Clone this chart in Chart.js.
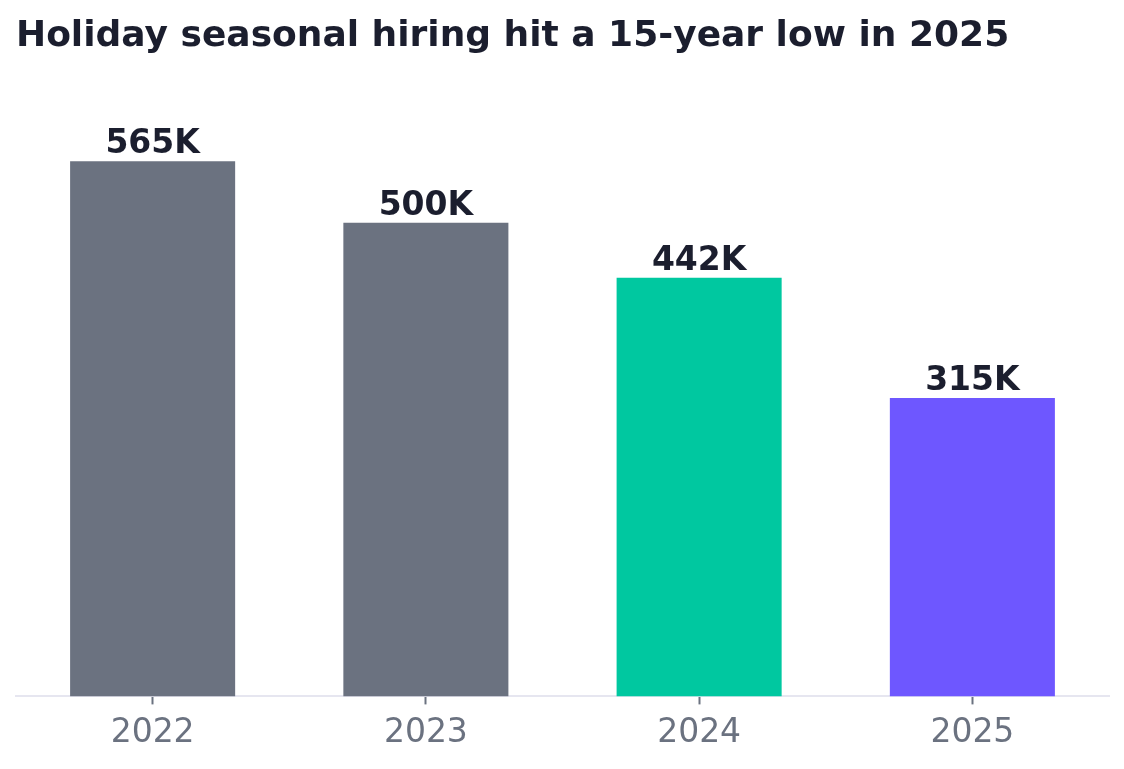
<!DOCTYPE html>
<html>
<head>
<meta charset="utf-8">
<script src="https://cdn.jsdelivr.net/npm/chart.js@4/dist/chart.umd.min.js"></script>
<style>
  html, body { margin: 0; padding: 0; background: #ffffff; }
  #wrap { width: 1124px; height: 769px; position: relative; }
</style>
</head>
<body>
<div id="wrap"><canvas id="c"></canvas></div>
<script>
const categories = ['2022', '2023', '2024', '2025'];
const hires = [565, 500, 442, 315];
const valueLabels = ['565K', '500K', '442K', '315K'];
const barColors = ['#6b7280', '#6b7280', '#00c8a0', '#6e57ff'];
const titleText = 'Holiday seasonal hiring hit a 15-year low in 2025';

const valueLabelPlugin = {
  id: 'valueLabels',
  afterDatasetsDraw(chart) {
    const ctx = chart.ctx;
    const meta = chart.getDatasetMeta(0);
    ctx.save();
    ctx.font = 'bold 33px "DejaVu Sans"';
    ctx.fillStyle = '#1b1e2e';
    ctx.textAlign = 'center';
    ctx.textBaseline = 'alphabetic';
    meta.data.forEach((bar, i) => {
      ctx.fillText(valueLabels[i], bar.x, bar.y - 8);
    });
    ctx.restore();
  }
};

new Chart(document.getElementById('c'), {
  type: 'bar',
  data: {
    labels: categories,
    datasets: [{
      data: hires,
      backgroundColor: barColors,
      borderWidth: 0,
      categoryPercentage: 1,
      barPercentage: 0.604
    }]
  },
  options: {
    responsive: true,
    maintainAspectRatio: false,
    animation: false,
    devicePixelRatio: 1,
    layout: { padding: { left: 16, right: 15, top: 0, bottom: 7 } },
    plugins: {
      legend: { display: false },
      tooltip: { enabled: false },
      title: {
        display: true,
        text: titleText,
        align: 'start',
        color: '#1b1e2e',
        font: { family: '"DejaVu Sans"', size: 36, weight: 'bold' },
        padding: { top: 15, bottom: 51 }
      }
    },
    scales: {
      x: {
        offset: true,
        border: { display: true, color: '#e6e6f0', width: 2 },
        grid: { display: true, offset: false, drawOnChartArea: false, drawTicks: true, tickLength: 8, tickColor: '#6b7280', tickWidth: 2 },
        ticks: {
          color: '#6b7280',
          padding: 9,
          font: { family: '"DejaVu Sans"', size: 33 }
        }
      },
      y: {
        display: false,
        min: 0,
        max: 620
      }
    }
  },
  plugins: [valueLabelPlugin]
});
</script>
</body>
</html>
